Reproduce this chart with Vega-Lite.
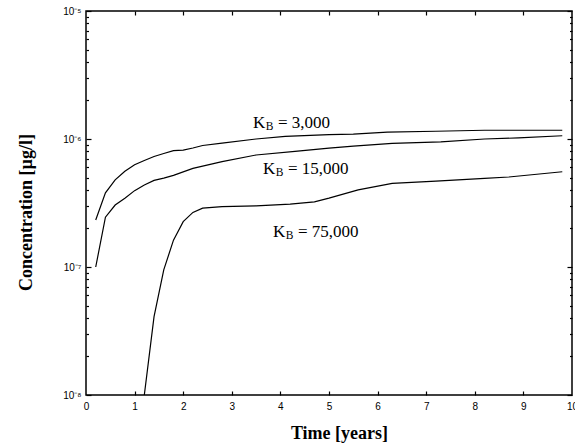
{
  "$schema": "https://vega.github.io/schema/vega-lite/v6.json",
  "width": 486,
  "height": 384,
  "autosize": {"type": "none"},
  "padding": {"left": 86, "top": 11, "right": 3, "bottom": 52},
  "background": "white",
  "config": {
    "view": {"stroke": "black", "strokeWidth": 1.5},
    "axis": {"domain": false, "ticks": true, "tickColor": "black", "tickWidth": 1.2, "tickOpacity": 1, "labelColor": "black", "titleColor": "black", "grid": false}
  },
  "datasets": {
    "curves": [
      {"k": "3000", "t": 0.2, "c": 2.33e-7},
      {"k": "3000", "t": 0.4, "c": 3.8e-7},
      {"k": "3000", "t": 0.6, "c": 4.8e-7},
      {"k": "3000", "t": 0.8, "c": 5.6e-7},
      {"k": "3000", "t": 1.0, "c": 6.3e-7},
      {"k": "3000", "t": 1.2, "c": 6.8e-7},
      {"k": "3000", "t": 1.4, "c": 7.3e-7},
      {"k": "3000", "t": 1.6, "c": 7.7e-7},
      {"k": "3000", "t": 1.8, "c": 8.1e-7},
      {"k": "3000", "t": 2.0, "c": 8.2e-7},
      {"k": "3000", "t": 2.2, "c": 8.5e-7},
      {"k": "3000", "t": 2.4, "c": 8.9e-7},
      {"k": "3000", "t": 2.8, "c": 9.3e-7},
      {"k": "3000", "t": 3.5, "c": 1.0e-6},
      {"k": "3000", "t": 4.1, "c": 1.05e-6},
      {"k": "3000", "t": 5.0, "c": 1.08e-6},
      {"k": "3000", "t": 5.5, "c": 1.09e-6},
      {"k": "3000", "t": 6.2, "c": 1.13e-6},
      {"k": "3000", "t": 7.2, "c": 1.15e-6},
      {"k": "3000", "t": 8.2, "c": 1.17e-6},
      {"k": "3000", "t": 9.8, "c": 1.17e-6},
      {"k": "15000", "t": 0.2, "c": 1.0e-7},
      {"k": "15000", "t": 0.4, "c": 2.45e-7},
      {"k": "15000", "t": 0.6, "c": 3.05e-7},
      {"k": "15000", "t": 0.8, "c": 3.45e-7},
      {"k": "15000", "t": 1.0, "c": 3.95e-7},
      {"k": "15000", "t": 1.2, "c": 4.37e-7},
      {"k": "15000", "t": 1.4, "c": 4.75e-7},
      {"k": "15000", "t": 1.6, "c": 4.95e-7},
      {"k": "15000", "t": 1.8, "c": 5.2e-7},
      {"k": "15000", "t": 2.2, "c": 5.9e-7},
      {"k": "15000", "t": 2.6, "c": 6.4e-7},
      {"k": "15000", "t": 2.8, "c": 6.65e-7},
      {"k": "15000", "t": 3.5, "c": 7.5e-7},
      {"k": "15000", "t": 4.3, "c": 8.0e-7},
      {"k": "15000", "t": 5.0, "c": 8.5e-7},
      {"k": "15000", "t": 5.5, "c": 8.8e-7},
      {"k": "15000", "t": 6.3, "c": 9.25e-7},
      {"k": "15000", "t": 7.3, "c": 9.5e-7},
      {"k": "15000", "t": 8.2, "c": 1.0e-6},
      {"k": "15000", "t": 8.9, "c": 1.02e-6},
      {"k": "15000", "t": 9.8, "c": 1.06e-6},
      {"k": "75000", "t": 1.2, "c": 1.0e-8},
      {"k": "75000", "t": 1.4, "c": 4.1e-8},
      {"k": "75000", "t": 1.6, "c": 9.5e-8},
      {"k": "75000", "t": 1.8, "c": 1.62e-7},
      {"k": "75000", "t": 2.0, "c": 2.26e-7},
      {"k": "75000", "t": 2.2, "c": 2.67e-7},
      {"k": "75000", "t": 2.4, "c": 2.88e-7},
      {"k": "75000", "t": 2.8, "c": 2.96e-7},
      {"k": "75000", "t": 3.5, "c": 3.0e-7},
      {"k": "75000", "t": 4.2, "c": 3.1e-7},
      {"k": "75000", "t": 4.7, "c": 3.23e-7},
      {"k": "75000", "t": 5.0, "c": 3.45e-7},
      {"k": "75000", "t": 5.6, "c": 4.0e-7},
      {"k": "75000", "t": 6.3, "c": 4.5e-7},
      {"k": "75000", "t": 7.2, "c": 4.68e-7},
      {"k": "75000", "t": 8.2, "c": 4.93e-7},
      {"k": "75000", "t": 8.7, "c": 5.05e-7},
      {"k": "75000", "t": 9.8, "c": 5.55e-7}
    ],
    "labels": [
      {"label": "= 3,000", "t": 3.436, "c": 1.225e-6},
      {"label": "= 15,000", "t": 3.642, "c": 5.33e-7},
      {"label": "= 75,000", "t": 3.848, "c": 1.725e-7}
    ]
  },
  "layer": [
    {
      "data": {"name": "curves"},
      "mark": {"type": "line", "color": "black", "strokeWidth": 1.2, "clip": true},
      "encoding": {
        "x": {
          "field": "t", "type": "quantitative",
          "scale": {"domain": [0, 10], "nice": false, "zero": false},
          "axis": {
            "orient": "bottom",
            "values": [0, 1, 2, 3, 4, 5, 6, 7, 8, 9, 10],
            "ticks": false, "tickSize": 0,
            "labelFont": "Liberation Sans", "labelFontSize": 10, "labelPadding": 6,
            "labelFlush": false, "labelOverlap": false,
            "title": "Time [years]",
            "titleFont": "Liberation Serif", "titleFontSize": 18, "titleFontWeight": "bold",
            "titleX": 253, "titleY": 43, "titleBaseline": "alphabetic", "titleAlign": "center"
          }
        },
        "y": {
          "field": "c", "type": "quantitative",
          "scale": {"type": "log", "domain": [1e-8, 1e-5], "nice": false},
          "axis": {
            "orient": "left",
            "values": [1e-8, 1e-7, 1e-6, 1e-5],
            "labelExpr": "datum.value == 1e-8 ? '10⁻⁸' : datum.value == 1e-7 ? '10⁻⁷' : datum.value == 1e-6 ? '10⁻⁶' : '10⁻⁵'",
            "ticks": false, "tickSize": 0,
            "labelFont": "Liberation Sans", "labelFontSize": 10, "labelPadding": 5,
            "labelOverlap": false, "labelFlush": false,
            "title": "Concentration [µg/l]",
            "titleFont": "Liberation Serif", "titleFontSize": 18, "titleFontWeight": "bold",
            "titleAngle": -90, "titleX": -55, "titleY": 201, "titleBaseline": "alphabetic", "titleAlign": "center"
          }
        },
        "detail": {"field": "k", "type": "nominal"}
      }
    },
    {
      "data": {"name": "curves"},
      "mark": {"type": "line", "opacity": 0},
      "encoding": {
        "x": {
          "field": "t", "type": "quantitative",
          "axis": {"orient": "bottom", "values": [1, 2, 3, 4, 5, 6, 7, 8, 9], "ticks": true, "tickSize": 4, "offset": -4, "labels": false, "title": null}
        },
        "y": {
          "field": "c", "type": "quantitative",
          "axis": {"orient": "left", "values": [1e-8, 1e-7, 1e-6, 1e-5], "ticks": true, "tickSize": 5, "offset": -5, "labels": false, "title": null}
        },
        "detail": {"field": "k", "type": "nominal"}
      }
    },
    {
      "data": {"name": "curves"},
      "mark": {"type": "line", "opacity": 0},
      "encoding": {
        "x": {
          "field": "t", "type": "quantitative",
          "axis": {"orient": "top", "values": [1, 2, 3, 4, 5, 6, 7, 8, 9], "ticks": true, "tickSize": 4, "offset": -4, "labels": false, "title": null}
        },
        "y": {
          "field": "c", "type": "quantitative",
          "axis": {"orient": "left", "values": [2e-8, 3e-8, 4e-8, 5e-8, 6e-8, 7e-8, 8e-8, 9e-8, 2e-7, 3e-7, 4e-7, 5e-7, 6e-7, 7e-7, 8e-7, 9e-7, 2e-6, 3e-6, 4e-6, 5e-6, 6e-6, 7e-6, 8e-6, 9e-6], "ticks": true, "tickSize": 2.5, "offset": -2.5, "labels": false, "title": null}
        },
        "detail": {"field": "k", "type": "nominal"}
      }
    },
    {
      "data": {"name": "curves"},
      "mark": {"type": "line", "opacity": 0},
      "encoding": {
        "x": {"field": "t", "type": "quantitative", "axis": null},
        "y": {
          "field": "c", "type": "quantitative",
          "axis": {"orient": "right", "values": [1e-8, 1e-7, 1e-6, 1e-5], "ticks": true, "tickSize": 5, "offset": -5, "labels": false, "title": null}
        },
        "detail": {"field": "k", "type": "nominal"}
      }
    },
    {
      "data": {"name": "curves"},
      "mark": {"type": "line", "opacity": 0},
      "encoding": {
        "x": {"field": "t", "type": "quantitative", "axis": null},
        "y": {
          "field": "c", "type": "quantitative",
          "axis": {"orient": "right", "values": [2e-8, 3e-8, 4e-8, 5e-8, 6e-8, 7e-8, 8e-8, 9e-8, 2e-7, 3e-7, 4e-7, 5e-7, 6e-7, 7e-7, 8e-7, 9e-7, 2e-6, 3e-6, 4e-6, 5e-6, 6e-6, 7e-6, 8e-6, 9e-6], "ticks": true, "tickSize": 2.5, "offset": -2.5, "labels": false, "title": null}
        },
        "detail": {"field": "k", "type": "nominal"}
      }
    },
    {
      "data": {"name": "labels"},
      "mark": {"type": "text", "text": "K", "font": "Liberation Serif", "fontSize": 17, "align": "left", "baseline": "alphabetic", "color": "black"},
      "encoding": {
        "x": {"field": "t", "type": "quantitative", "axis": null},
        "y": {"field": "c", "type": "quantitative", "axis": null}
      }
    },
    {
      "data": {"name": "labels"},
      "mark": {"type": "text", "text": "B", "font": "Liberation Serif", "fontSize": 11.5, "align": "left", "baseline": "alphabetic", "dx": 12.7, "dy": 2, "color": "black"},
      "encoding": {
        "x": {"field": "t", "type": "quantitative", "axis": null},
        "y": {"field": "c", "type": "quantitative", "axis": null}
      }
    },
    {
      "data": {"name": "labels"},
      "mark": {"type": "text", "font": "Liberation Serif", "fontSize": 17, "align": "left", "baseline": "alphabetic", "dx": 25, "color": "black"},
      "encoding": {
        "x": {"field": "t", "type": "quantitative", "axis": null},
        "y": {"field": "c", "type": "quantitative", "axis": null},
        "text": {"field": "label", "type": "nominal"}
      }
    }
  ],
  "resolve": {"axis": {"x": "independent", "y": "independent"}}
}
